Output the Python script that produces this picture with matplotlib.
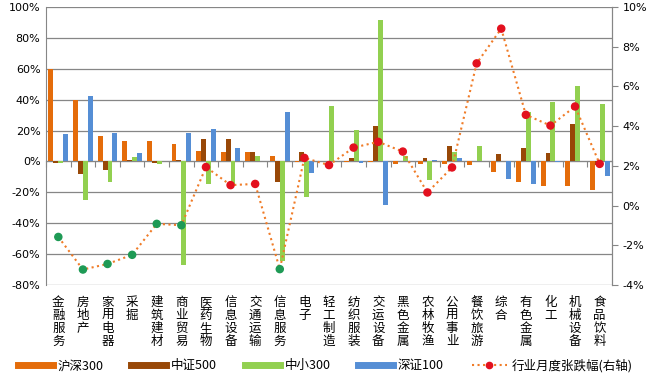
import matplotlib.pyplot as plt
import numpy as np
from matplotlib.lines import Line2D

plt.rcParams['font.family'] = ['Noto Sans CJK SC', 'DejaVu Sans']

industries = ['金融服务', '房地产', '家用电器', '采掘', '建筑建材', '商业贸易', '医药生物',
              '信息设备', '交通运输', '信息服务', '电子', '轻工制造', '纺织服装', '交运设备',
              '黑色金属', '农林牧渔', '公用事业', '餐饮旅游', '综合', '有色金属', '化工',
              '机械设备', '食品饮料']

hs300 = [60, 40, 16.7, 13.4, 13.4, 11.5, 6.9, 6.3, 6.3, 3.7, -0.5, 0, -0.5, -0.5,
         -1.9, -1.9, -1.9, -2.6, -6.7, -13.6, -15.6, -16.2, -18.3]
zz500 = [-1, -8.4, -5.4, 1, -1, 1, 14.7, 14.7, 6.3, -13.6, 6.3, 0, 2.4, 23.1,
         0, 2.4, 9.7, 0, 4.5, 8.9, 5.6, 24.4, -2.6]
zx300 = [-1, -24.8, -13.2, 3, -1.5, -67, -14.5, -14.5, 3.7, -64.2, -23.3, 36.1, 20.5, 91.9,
         3.7, -12.3, 5.8, 10.2, 0, 32.2, 38.7, 49.1, 37.4]
sz100 = [18, 42.6, 18.6, 5.6, 0, 18.6, 21.2, 8.9, 0, 32.2, -7.5, 0, -1, -28.5,
         0, 1, 2.4, 0, -11.2, -14.5, -0.5, 0.5, -9.7]
monthly = [-1.58, -3.22, -2.94, -2.48, -0.92, -0.99, 1.94, 1.03, 1.09, -3.2, 2.4, 2.04,
           2.92, 3.21, 2.72, 0.66, 1.92, 7.16, 8.91, 4.57, 4.03, 4.99, 2.1]

series = [('沪深300', hs300, '#E46C0A'), ('中证500', zz500, '#984807'),
          ('中小300', zx300, '#92D050'), ('深证100', sz100, '#558ED5')]

fig = plt.figure(figsize=(6.5, 3.78), dpi=100)
ax = fig.add_axes([0.0708, 0.246, 0.8707, 0.7355])
x = np.arange(len(industries))
w = 0.2

for k, (name, vals, col) in enumerate(series):
  ax.bar(x + (k - 1.5) * w, vals, w, color=col, zorder=3)

ax.set_xlim(-0.5, len(industries) - 0.5)
ax.set_ylim(-80, 100)
ax.set_yticks(np.arange(-80, 101, 20))
ax.set_yticklabels([f'{v}%' for v in range(-80, 101, 20)], family='DejaVu Sans')
ax.yaxis.grid(True, color='#868686', lw=0.9, zorder=0)
ax.tick_params(axis='y', length=0, labelsize=8, pad=4)

ax.spines['top'].set_visible(False)
ax.spines['left'].set_color('#868686')
ax.spines['right'].set_color('#868686')
ax.spines['bottom'].set_position(('data', 0))
ax.spines['bottom'].set_color('#868686')
ax.set_xticks(np.arange(-0.5, len(industries), 1))
ax.set_xticklabels([])
ax.tick_params(axis='x', length=4, color='#868686', direction='out')

for i, name in enumerate(industries):
  ax.text(i, -0.04, '\n'.join(name), transform=ax.get_xaxis_transform(),
          ha='center', va='top', fontsize=9, linespacing=1.0)

ax2 = ax.twinx()
ax2.set_ylim(-4, 10)
ax2.set_yticks(np.arange(-4, 11, 2))
ax2.set_yticklabels([f'{v}%' for v in range(-4, 11, 2)], family='DejaVu Sans')
ax2.tick_params(axis='y', length=4, color='#868686', labelsize=8)
for s in ['top', 'bottom', 'left']:
  ax2.spines[s].set_visible(False)
ax2.spines['right'].set_color('#868686')

ax2.plot(x, monthly, ls=':', color='#F07C28', lw=1.5, zorder=4)
mcols = ['#E3101E' if v >= 0 else '#1E9A55' for v in monthly]
ax2.scatter(x, monthly, s=26, c=mcols, edgecolors=mcols, zorder=5)

handles = [Line2D([], [], color=c, lw=5) for _, _, c in series]
handles.append(Line2D([], [], color='#F07C28', ls=':', lw=1.5, marker='o',
                      markersize=4.5, markerfacecolor='#E3101E', markeredgecolor='#E3101E'))
labels = [n for n, _, _ in series] + ['行业月度张跌幅(右轴)']
fig.legend(handles, labels, loc='lower center', ncol=5, frameon=False, fontsize=9,
           bbox_to_anchor=(0.5, -0.015), handlelength=2.8, columnspacing=2.2,
           handletextpad=0.4)

fig.savefig('out.png', dpi=100)
